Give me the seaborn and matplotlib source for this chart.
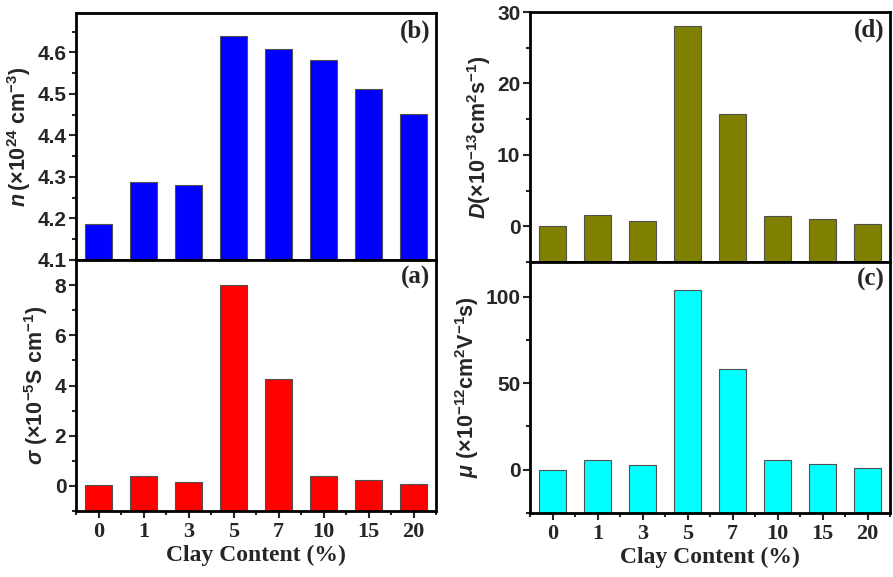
import numpy as np
import pandas as pd
import matplotlib
matplotlib.use("Agg")
import matplotlib.pyplot as plt
import seaborn as sns
from matplotlib.ticker import AutoMinorLocator, FixedLocator

# Data
clay = ["0", "1", "3", "5", "7", "10", "15", "20"]
carrier_n = [4.187, 4.288, 4.280, 4.639, 4.609, 4.582, 4.512, 4.451]   # x10^24 cm^-3
sigma = [0.02, 0.41, 0.17, 8.02, 4.26, 0.40, 0.25, 0.07]              # x10^-5 S/cm
diff_D = [0.0, 1.55, 0.7, 28.05, 15.7, 1.45, 0.95, 0.25]             # x10^-13 cm2/s
mobility = [0.0, 5.8, 2.5, 104.0, 58.0, 5.6, 3.5, 0.9]               # x10^-12 cm2/Vs

sns.set_style("ticks")
plt.rcParams["font.family"] = ["Liberation Sans", "DejaVu Sans"]
plt.rcParams["mathtext.fontset"] = "custom"
plt.rcParams["mathtext.rm"] = "Liberation Sans:bold"
plt.rcParams["mathtext.it"] = "Liberation Sans:bold:italic"
plt.rcParams["mathtext.bf"] = "Liberation Sans:bold"

fig = plt.figure(figsize=(8.93, 5.77), dpi=100)

panels = [
    # values, color, ylim, major step, minor, ylabel, tag, rect, show x
    (carrier_n, "#0000ff", (4.1, 4.695), 0.1, 2,
     r"$\mathit{n}\,$(×10$^{24}$ cm$^{-3}$)", "(b)",
     [76/893, 1-260/577, 360/893, 247/577], False, "%.1f"),
    (sigma, "#ff0000", (-1.0, 9.0), 2, 2,
     r"$\mathit{\sigma}$ (×10$^{-5}$S cm$^{-1}$)", "(a)",
     [76/893, 1-511/577, 360/893, 251/577], True, "%d"),
    (diff_D, "#808000", (-5, 30), 10, 2,
     r"$\mathit{D}$(×10$^{-13}$cm$^{2}$s$^{-1}$)", "(d)",
     [530/893, 1-262/577, 360/893, 250/577], False, "%d"),
    (mobility, "#00ffff", (-25, 120), 50, 2,
     r"$\mathit{\mu}$ (×10$^{-12}$cm$^{2}$V$^{-1}$s)", "(c)",
     [530/893, 1-513/577, 360/893, 251/577], True, "%d"),
]

for vals, color, ylim, step, nminor, ylabel, tag, rect, showx, fmt in panels:
    ax = fig.add_axes(rect)
    low = ylim[0]
    df = pd.DataFrame({"clay": clay, "h": np.array(vals) - low})
    # bars start from the bottom of the axis, as in Origin
    sns.barplot(data=df, x="clay", y="h", color=color, saturation=1,
                width=0.6, edgecolor="#505050", linewidth=0.8,
                bottom=low, ax=ax)
    ax.set_xlim(-0.5, len(clay) - 0.5)
    ax.set_ylim(*ylim)

    ymaj = np.arange(np.ceil(ylim[0] / step) * step, ylim[1] + 1e-9, step)
    ax.yaxis.set_major_locator(FixedLocator(ymaj))
    ax.yaxis.set_minor_locator(AutoMinorLocator(nminor))
    ax.yaxis.set_major_formatter(matplotlib.ticker.FormatStrFormatter(fmt))
    ax.xaxis.set_minor_locator(FixedLocator(np.arange(-0.5, len(clay), 1.0)))

    for s in ax.spines.values():
        s.set_linewidth(2.0)
        s.set_color("black")
        s.set_visible(True)

    ax.tick_params(axis="y", which="major", direction="out", length=5,
                   width=1.5, labelsize=15, pad=2)
    ax.tick_params(axis="y", which="minor", direction="out", length=3,
                   width=1.5)
    ax.tick_params(axis="x", which="major", direction="out", length=5,
                   width=1.5, labelsize=16, pad=3)
    ax.tick_params(axis="x", which="minor", direction="out", length=3,
                   width=1.5)
    for lab in ax.get_yticklabels():
        lab.set_fontweight("bold")
        lab.set_family(["Liberation Sans", "DejaVu Sans"])

    if showx:
        for lab in ax.get_xticklabels():
            lab.set_fontweight("bold")
            lab.set_family(["Liberation Serif", "DejaVu Serif"])
        ax.set_xlabel("Clay Content (%)", fontsize=17, fontweight="bold",
                      family=["Liberation Serif", "DejaVu Serif"], labelpad=2)
    else:
        ax.tick_params(axis="x", which="both", length=0, labelbottom=False)
        ax.set_xlabel("")

    ax.set_ylabel(ylabel, fontsize=15.5, fontweight="bold", labelpad=3)
    ax.text(0.985, 0.975, tag, transform=ax.transAxes, ha="right", va="top",
            fontsize=18, fontweight="bold",
            family=["Liberation Serif", "DejaVu Serif"])

fig.savefig("out.png", dpi=100)
